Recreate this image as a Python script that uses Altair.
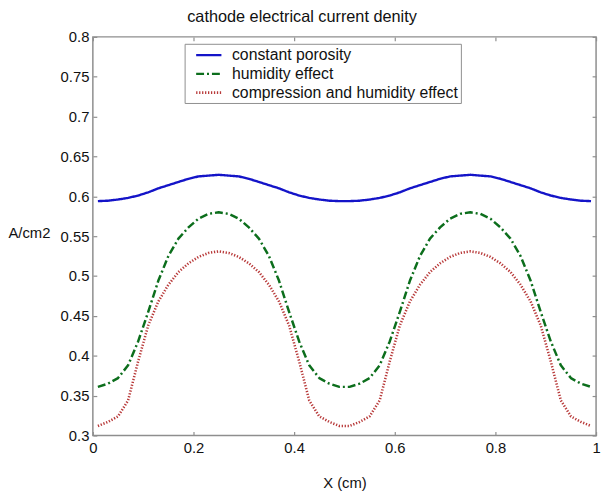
import altair as alt
import pandas as pd

# ---- data ----
x_cm = [0.01, 0.03, 0.05, 0.07, 0.09, 0.11, 0.13, 0.15, 0.17, 0.19, 0.21, 0.23, 0.25,
        0.27, 0.29, 0.31, 0.33, 0.35, 0.37, 0.39, 0.41, 0.43, 0.45, 0.47, 0.49,
        0.51, 0.53, 0.55, 0.57, 0.59, 0.61, 0.63, 0.65, 0.67, 0.69, 0.71, 0.73, 0.75,
        0.77, 0.79, 0.81, 0.83, 0.85, 0.87, 0.89, 0.91, 0.93, 0.95, 0.97, 0.99]

constant_porosity = [0.594, 0.5945, 0.596, 0.598, 0.601, 0.605, 0.610, 0.614, 0.618, 0.622, 0.625, 0.626, 0.627,
                     0.626, 0.625, 0.622, 0.618, 0.614, 0.610, 0.605, 0.601, 0.598, 0.596, 0.5945, 0.594,
                     0.594, 0.5945, 0.596, 0.598, 0.601, 0.605, 0.610, 0.614, 0.618, 0.622, 0.625, 0.626, 0.627,
                     0.626, 0.625, 0.622, 0.618, 0.614, 0.610, 0.605, 0.601, 0.598, 0.596, 0.5945, 0.594]

humidity_effect = [0.361, 0.365, 0.372, 0.388, 0.418, 0.455, 0.494, 0.525, 0.547, 0.561, 0.572, 0.578, 0.580,
                   0.578, 0.572, 0.561, 0.547, 0.525, 0.494, 0.455, 0.418, 0.388, 0.372, 0.365, 0.361,
                   0.361, 0.365, 0.372, 0.388, 0.418, 0.455, 0.494, 0.525, 0.547, 0.561, 0.572, 0.578, 0.580,
                   0.578, 0.572, 0.561, 0.547, 0.525, 0.494, 0.455, 0.418, 0.388, 0.372, 0.365, 0.361]

compression_humidity = [0.312, 0.317, 0.324, 0.344, 0.393, 0.438, 0.468, 0.489, 0.505, 0.516, 0.524, 0.529, 0.531,
                        0.529, 0.524, 0.516, 0.505, 0.489, 0.468, 0.438, 0.393, 0.344, 0.324, 0.317, 0.312,
                        0.312, 0.317, 0.324, 0.344, 0.393, 0.438, 0.468, 0.489, 0.505, 0.516, 0.524, 0.529, 0.531,
                        0.529, 0.524, 0.516, 0.505, 0.489, 0.468, 0.438, 0.393, 0.344, 0.324, 0.317, 0.312]

series_names = ["constant porosity", "humidity effect", "compression and humidity effect"]
x_ticks = [0, 0.2, 0.4, 0.6, 0.8, 1]
y_ticks = [0.3, 0.35, 0.4, 0.45, 0.5, 0.55, 0.6, 0.65, 0.7, 0.75, 0.8]

# ---- table ----
rows = []
for name, vals in zip(series_names, [constant_porosity, humidity_effect, compression_humidity]):
    for xv, yv in zip(x_cm, vals):
        rows.append({"x": xv, "value": yv, "series": name})
df = pd.DataFrame(rows)

W, H = 510, 404
FONT = "Liberation Sans"
GRAY = "#8e8e8e"
TXT = "#111111"

x_scale = alt.Scale(domain=[0, 1], nice=False, zero=False)
y_scale = alt.Scale(domain=[0.3, 0.8], nice=False, zero=False)

colors = ["#1414c8", "#0c6e1c", "#b83a3a"]
dashes = [[1, 0], [8, 3, 2, 3], [1.3, 1.7]]
widths = [2.4, 2.6, 1.4]

legend = alt.Legend(
    title=None, orient="none", legendX=93, legendY=7,
    padding=2, strokeColor=GRAY, fillColor="white",
    labelFont=FONT, labelFontSize=16, labelColor=TXT, labelOffset=14, labelLimit=400,
    labelExpr="datum.label + '\u00a0\u00a0'",
    symbolType="M-1.6,0H1.6", symbolSize=256, symbolStrokeWidth=2, symbolOffset=13,
    rowPadding=1,
)

lines = alt.Chart(df).mark_line(strokeCap="butt", strokeJoin="round").encode(
    x=alt.X("x:Q", scale=x_scale, axis=alt.Axis(
        values=x_ticks, format="~g", ticks=False, domain=False, grid=False, labelOverlap=False,
        labelFont=FONT, labelFontSize=15, labelColor=TXT, labelPadding=5, labelFlush=False,
        title="X (cm)", titleFont=FONT, titleFontSize=15, titleFontWeight="normal", titleColor=TXT,
        titleX=W / 2, titleY=48, titleBaseline="middle", titleAlign="center")),
    y=alt.Y("value:Q", scale=y_scale, axis=alt.Axis(
        values=y_ticks, format="~g", ticks=False, domain=False, grid=False, labelOverlap=False,
        labelFont=FONT, labelFontSize=15, labelColor=TXT, labelPadding=4, labelFlush=False,
        title="A/cm2", titleFont=FONT, titleFontSize=15, titleFontWeight="normal", titleColor=TXT,
        titleAngle=0, titleX=-86, titleY=198, titleAlign="left", titleBaseline="middle")),
    color=alt.Color("series:N", scale=alt.Scale(domain=series_names, range=colors), legend=legend),
    strokeDash=alt.StrokeDash("series:N", scale=alt.Scale(domain=series_names, range=dashes), legend=legend),
    strokeWidth=alt.StrokeWidth("series:N", scale=alt.Scale(domain=series_names, range=widths), legend=None),
)


def tick_axis(orient, offset, vals):
    return alt.Axis(orient=orient, offset=offset, values=vals, labels=False, domain=False, grid=False,
                    ticks=True, tickSize=4, tickColor=GRAY, tickWidth=1.2, title=None)


ticks_a = alt.Chart(df).mark_point(opacity=0).encode(
    x=alt.X("x:Q", scale=x_scale, axis=tick_axis("top", -H, x_ticks)),
    y=alt.Y("value:Q", scale=y_scale, axis=tick_axis("right", -W, y_ticks)),
)
ticks_b = alt.Chart(df).mark_point(opacity=0).encode(
    x=alt.X("x:Q", scale=x_scale, axis=tick_axis("bottom", -H, x_ticks)),
    y=alt.Y("value:Q", scale=y_scale, axis=tick_axis("left", -W, y_ticks)),
)

chart = alt.layer(lines, ticks_a, ticks_b).resolve_scale(
    x="independent", y="independent"
).resolve_axis(
    x="independent", y="independent"
).properties(
    width=W, height=H,
    title=alt.TitleParams("cathode electrical current denity", font=FONT, fontSize=16.5,
                          fontWeight="normal", color=TXT, anchor="middle", dx=-43, offset=5),
    autosize=alt.AutoSizeParams(type="none"),
    padding={"left": 86, "top": 26, "right": 5, "bottom": 55},
    background="white",
).configure_view(stroke=GRAY, strokeWidth=1.5)

chart.save("out.html", embed_options={"renderer": "svg", "actions": False})
